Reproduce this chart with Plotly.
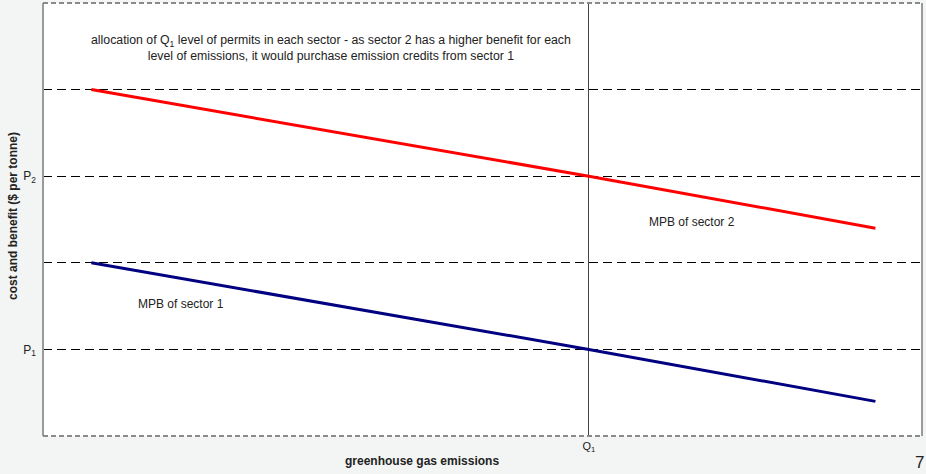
import plotly.graph_objects as go

# data
x_points = [5.5, 62.1, 94.7]
mpb_sector2 = [4.0, 3.0, 2.4]
mpb_sector1 = [2.0, 1.0, 0.4]
q1 = 62.1
y_levels = [1, 2, 3, 4]
y_ticktext = ["P<sub>1</sub>", "", "P<sub>2</sub>", ""]
x_ticktext = ["Q<sub>1</sub>"]

font_family = "Liberation Sans, Arial, sans-serif"
txt = "#222222"

fig = go.Figure()
fig.add_trace(go.Scatter(x=x_points, y=mpb_sector2, mode="lines",
                         line=dict(color="#ff0000", width=3), name="MPB of sector 2"))
fig.add_trace(go.Scatter(x=x_points, y=mpb_sector1, mode="lines",
                         line=dict(color="#000080", width=3), name="MPB of sector 1"))

W, H = 926, 474
L, R, T, B = 43, 4, 3, 38
pw, ph = W - L - R, H - T - B

def px(xp):
    return (xp - L) / pw

def py(yp):
    return (H - B - yp) / ph

fig.update_layout(
    width=W, height=H,
    margin=dict(l=L, r=R, t=T, b=B, autoexpand=False),
    paper_bgcolor="#f3f5f4",
    plot_bgcolor="#ffffff",
    showlegend=False,
    font=dict(family=font_family, size=12, color=txt),
    xaxis=dict(range=[0, 100], tickvals=[q1], ticktext=x_ticktext,
               showgrid=True, gridcolor="#444444", gridwidth=1,
               zeroline=False, showline=False, ticks="", automargin=False,
               ticklabelstandoff=2,
               tickfont=dict(size=11, color=txt)),
    yaxis=dict(range=[0, 5], tickvals=y_levels, ticktext=y_ticktext,
               showgrid=True, gridcolor="#000000", gridwidth=1, griddash="9px,5px",
               zeroline=False, showline=False, ticks="", automargin=False,
               ticklabelstandoff=6,
               tickfont=dict(size=12, color=txt)),
)

# frame: solid sides, dashed top/bottom
fig.add_shape(type="line", xref="paper", yref="paper", x0=0, x1=0, y0=0, y1=1,
              line=dict(color="#9a9a9a", width=2))
fig.add_shape(type="line", xref="paper", yref="paper", x0=1, x1=1, y0=0, y1=1,
              line=dict(color="#9a9a9a", width=2))
fig.add_shape(type="line", xref="paper", yref="paper", x0=0, x1=1, y0=1, y1=1,
              line=dict(color="#8a8a8a", width=2, dash="5px,3px"))
fig.add_shape(type="line", xref="paper", yref="paper", x0=0, x1=1, y0=0, y1=0,
              line=dict(color="#8a8a8a", width=2, dash="5px,3px"))

def note(xp, yp, text, size=12, angle=0):
    fig.add_annotation(x=px(xp), y=py(yp), xref="paper", yref="paper",
                       xanchor="center", yanchor="middle", showarrow=False,
                       textangle=angle, text=text, align="center",
                       font=dict(size=size, color=txt))

note(331, 48, "allocation of Q<sub>1</sub> level of permits in each sector - as sector 2 has a higher benefit for each<br>level of emissions, it would purchase emission credits from sector 1", size=12.3)
note(692, 222, "MPB of sector 2")
note(181, 304, "MPB of sector 1")
note(422, 461, "<b>greenhouse gas emissions</b>")
note(13, 216, "<b>cost and benefit ($ per tonne)</b>", angle=-90)
note(919, 462, "7", size=17)

fig.write_html("out.html", config={"displayModeBar": False},
               post_script="document.body.style.margin='0';")
